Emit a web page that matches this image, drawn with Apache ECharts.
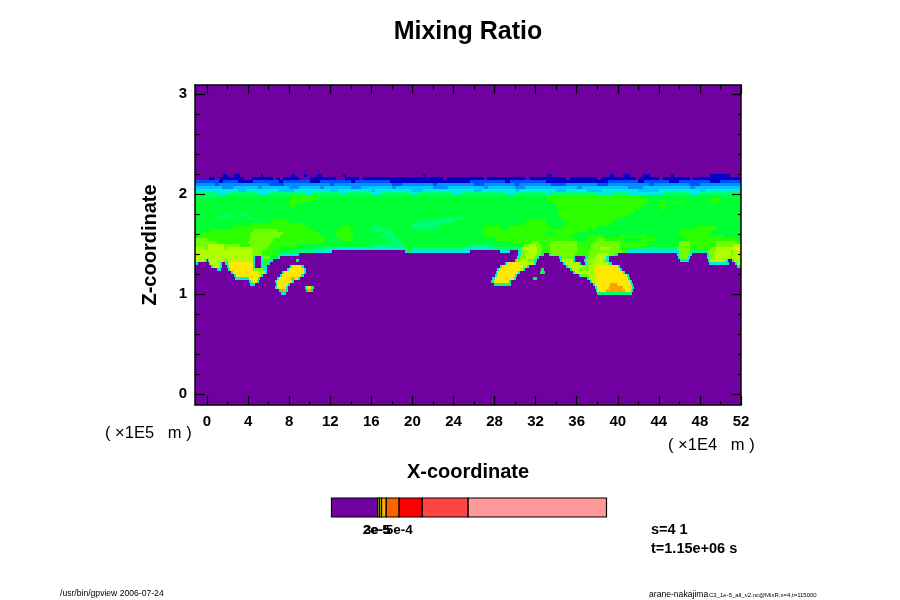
<!DOCTYPE html>
<html><head><meta charset="utf-8"><style>html,body{margin:0;padding:0;background:#fff}#c{width:900px;height:600px}</style>
<script src="https://cdn.jsdelivr.net/npm/echarts@6/dist/echarts.min.js"></script></head><body><div id="c"></div>
<script>
const levelColors=['#7000a0','#0000c8','#0050ff','#0090ff','#00c8ff','#00ecdc','#00ff70','#00ff33','#2cff00','#70ff00','#b0ff00','#ffe800','#ffa000'];
const xRange=[-1.17,52], zRange=[-0.107,3.088];
const xMajor=[0,4,8,12,16,20,24,28,32,36,40,44,48,52];
const xMinor=[2,6,10,14,18,22,26,30,34,38,42,46,50];
const zMajor=[0,1,2,3];
const zMinor=[0.2,0.4,0.6,0.8,1.2,1.4,1.6,1.8,2.2,2.4,2.6,2.8,3.0];
const rowTop=2.195, rowStep=0.03;
// each row: level, end x, level, end x ... from the top of the cloud deck downward
const fieldRows=[
[0,1.6,1,1.9,0,2.6,1,3.2,0,5.3,1,5.5,0,8.2,1,8.6,0,9.4,1,9.7,0,10.7,1,11.2,0,13.2,1,13.5,0,21,1,21.3,0,33.1,1,33.6,0,39.2,1,39.6,0,40.5,1,41.2,0,42.5,1,43.1,0,45.2,1,45.5,0,49,1,50.9,0,52],
[0,0.2,1,0.8,0,1.3,1,3.6,0,4.4,1,6.4,0,6.8,1,7.1,0,7.4,1,9,0,10,1,12.6,0,13.4,1,14.8,0,15.2,1,23,0,23.4,1,27,0,27.3,1,31,0,31.5,1,35,0,35.3,1,38,0,38.4,1,41.8,0,42.1,1,44,0,44.4,1,47,0,47.3,1,52],
[2,1.2,1,1.6,2,3,1,4.5,2,7,1,7.4,2,10,1,11,2,14,1,14.4,2,17.8,1,25.6,2,29,1,29.5,2,33,1,39,2,42,1,42.6,2,45,1,46,2,49,1,50,2,52],
[3,0.8,2,1.2,3,6,2,7.5,3,12,2,12.4,3,18,2,19,3,22,2,22.4,3,26,2,27,3,30,2,30.4,3,33.5,2,35,3,38,2,39,3,43,2,43.5,3,47,2,48,3,52],
[4,1.5,3,2.5,4,5,3,5.4,4,8,3,9,4,11,3,11.4,4,14,3,15,4,18,3,18.4,4,22,3,23.5,4,27,3,27.4,4,30,3,31,4,36,3,36.5,4,41,3,42.5,4,47,3,47.5,4,52],
[5,3,4,3.8,5,7,4,8.5,5,12,4,12.8,5,16,4,16.4,5,20,4,21,5,26,4,26.8,5,30,4,30.4,5,34,4,35,5,37,4,38.5,5,42,4,44,5,48,4,48.5,5,52],
[6,1,5,2,6,5,5,6,6,9.5,5,10.2,6,13,5,13.4,6,16,5,17,6,20,5,20.5,6,24,5,24.8,6,29,5,30,6,33,5,33.5,6,38,5,39.5,6,41,5,44.5,6,47,5,48,6,52],
[6,1,7,8.2,8,11,7,33,8,42.2,7,52],
[7,8,8,10.6,7,33.2,8,42.8,7,49.1,8,50,7,52],
[7,8.1,8,9.3,7,33.6,8,42.8,7,43.9,8,44.6,7,45.1,8,46.4,7,49,8,49.7,7,52],
[7,8,8,8.6,7,34,8,42.6,7,44,8,44.6,7,52],
[7,34.2,8,42.2,7,44,8,44.5,7,52],
[7,34.1,8,41.6,7,52],
[7,1.5,6,2.2,7,3,6,3.6,7,34.3,8,41,7,52],
[7,1,6,1.5,7,2.3,6,2.8,7,4,6,4.5,7,22.5,6,25,7,34.5,8,40,7,52],
[7,4.8,6,5,7,6.2,8,8,7,20.5,6,24,7,31,8,33,7,35,8,39.5,7,52],
[7,4.2,8,9.4,7,20,6,23,7,30.8,8,33,7,35,8,39.2,7,52],
[7,2.6,8,9.8,7,13,8,14,7,16,6,17,7,20,6,22.5,7,27,8,28.6,7,29.4,8,33.5,7,34.5,8,38,7,47.5,8,49.6,7,52],
[7,0.3,8,4.5,9,6.8,8,10.4,7,12.8,8,13.9,7,16.2,6,17.8,7,26.9,8,37,7,46.2,8,49.3,7,52],
[7,-0.5,8,4.3,9,7.4,8,11,7,12.6,8,14.2,7,17.2,6,18.2,7,26.9,8,33,7,33.8,8,36,7,45.9,8,49,7,52],
[7,-0.9,8,4.2,9,7.1,8,11.2,7,12.6,8,14.3,7,16.8,6,18.2,7,27,8,35.3,7,37.1,8,38.6,7,40.2,8,42.8,7,46.4,8,50.2,7,52],
[9,0,8,4.2,9,6.5,8,11.6,7,13,8,14,7,17.6,6,18.8,7,28,8,35.8,7,37.1,8,38,9,38.7,8,40.6,7,42.4,8,43.6,7,46.4,8,51.6,7,52],
[9,1,8,4,9,6.2,8,11.3,7,18.2,6,19.2,7,29.5,8,31.6,9,32.3,8,33.4,9,36,8,37.6,9,40.2,8,42.8,7,46,9,47,8,49.6,9,51.6,8,52],
[9,0.1,10,1.7,9,3.2,8,4.2,9,6,8,8.8,7,16,6,19.2,7,25.6,6,27.9,7,30.8,9,31.4,10,32,9,32.5,8,33.4,9,36,8,37.4,9,40.2,8,42.8,7,46,9,47,8,49.6,9,51.2,10,52],
[10,-0.4,9,0.1,10,1.7,9,2,10,4.4,9,5.8,8,7.1,7,9.7,6,12.1,5,19.1,6,19.5,7,20,6,25,5,27.9,6,30.4,9,30.8,10,32.1,9,32.6,8,33.4,9,36,8,37.4,9,38.3,10,39.2,9,40.2,8,40.9,6,45.8,9,47,8,49,9,49.6,10,51.2,11,52],
[10,4.5,9,5.4,8,6.4,7,8.5,6,10.5,5,12.2,0,19.3,5,19.5,7,20,5,25.6,0,28.5,5,29.5,0,30.3,5,30.6,9,31,10,32.1,9,32.5,8,33.4,9,36,8,37.2,9,40.4,8,40.9,5,45.6,5,46,9,47,6,48.8,9,49.6,10,51,9,51.3,10,52],
[10,4.5,9,5.4,8,7,5,9,0,30.3,5,30.6,9,31,10,32,9,32.5,5,32.8,0,33.3,5,33.5,9,35.8,8,37.2,9,38,10,39,9,39.7,5,40,0,45.8,5,46,9,47,5,47.2,0,48.7,5,48.9,9,49.3,10,51,9,51.2,10,52],
[10,4.5,5,4.7,0,5.3,5,5.5,9,6.1,7,6.9,5,7.1,0,30.2,5,30.5,9,31,10,31.8,9,32.1,5,32.3,0,34.3,5,34.6,9,35.6,5,35.8,0,36.8,5,37.1,9,37.8,10,38.9,5,39.1,0,45.9,5,46.1,9,46.8,5,47,0,48.7,5,48.9,9,49.3,10,50.8,9,51.1,10,52],
[10,-0.2,5,0,0,0.1,5,0.2,10,1.7,9,2,10,4.5,5,4.7,0,5.3,5,5.5,8,6.1,5,6.4,0,8.7,6,9,0,30,5,30.1,9,30.6,10,31.3,9,31.8,5,32.1,0,34.4,5,34.6,10,35.6,5,35.8,0,36.7,5,36.9,9,37.2,10,38.6,9,38.9,5,39.1,0,46.1,5,46.9,0,48.8,5,49,10,50.5,5,50.7,0,51.1,5,51.3,10,52],
[5,-0.9,0,0.2,5,0.3,10,1.3,5,1.5,0,1.8,5,2,10,2.2,11,4.5,5,4.7,0,5.3,5,5.5,8,5.8,5,6.1,0,29,5,29.2,11,30.5,10,31.8,5,32,0,34.7,5,34.9,10,36.2,5,36.4,0,36.8,5,37,9,37.6,10,39,9,39.2,5,39.4,0,48.9,5,50.8,0,51.4,5,51.6,10,52],
[0,0.4,5,0.6,10,1.3,5,1.5,0,1.9,5,2.1,11,4.5,5,4.7,0,5.3,5,5.8,0,8.1,5,8.3,11,9.2,5,9.4,0,28.5,5,28.7,11,30.8,10,31.2,5,31.4,0,35,5,35.2,10,36.6,9,37.2,10,38,11,40,5,40.2,0,51.6,5,52],
[0,1,5,1.4,0,2,5,2.2,11,4.5,9,5.5,5,5.8,0,7.8,5,8,11,9.4,5,9.6,0,28.2,5,28.4,11,30.5,10,30.8,5,31,0,32.5,7,32.8,0,35.3,5,35.5,10,36.2,9,37.2,10,37.9,11,40.2,5,40.4,0,52],
[0,2.3,5,2.5,11,5,10,5.6,5,5.8,0,7.3,5,7.5,11,9.4,5,9.6,0,28.1,5,28.3,11,30.3,5,30.5,0,32.4,7,32.9,0,35.6,5,35.8,10,37.9,11,40.5,5,40.7,0,52],
[0,2.6,5,2.8,11,5.1,10,5.3,5,5.5,0,7.1,5,7.3,11,9.2,5,9.4,0,28,5,28.2,11,30,5,30.2,0,36.2,5,36.4,9,37.2,10,37.9,11,40.9,5,41.1,0,52],
[0,2.7,5,4.1,11,5,5,5.2,0,6.8,5,7,11,8.2,12,8.6,11,8.9,5,9.1,0,27.8,5,28,11,29.9,5,30.1,0,31.7,7,32.1,0,37,5,37.2,10,38,11,41,5,41.2,0,52],
[0,4.1,5,4.3,10,4.5,11,4.9,5,5.1,0,6.6,5,6.8,11,8.3,5,8.5,0,27.7,5,27.9,11,29.4,5,29.6,0,37.3,5,37.5,10,37.9,11,41.2,5,41.4,0,52],
[0,4.2,5,4.7,0,6.7,5,6.8,11,7.9,5,8.1,0,27.9,6,29.6,0,37.6,5,37.8,11,39.2,12,39.9,11,41.3,5,41.5,0,52],
[0,6.6,5,6.8,11,7.7,5,7.9,0,9.5,6,9.7,11,10.1,6,10.4,0,37.8,5,38,11,39.1,12,40.5,11,41.4,5,41.6,0,52],
[0,7,5,7.2,12,7.7,5,7.9,0,9.6,6,9.8,12,10.1,6,10.3,0,37.9,5,38,11,38.9,12,40.7,11,41.3,5,41.5,0,52],
[0,7.2,5,7.7,0,38,6,41.4,0,52]
];
const barColors=['#7000a0','#b0ff00','#ffe800','#ffb000','#ff6000','#ff0000','#ff4444','#ff9999'];
const barEdges=[0,16.85,17.5,18.2,19.9,24.6,33,49.7,100];
const barLabels=[[16.3,'2e-5'],[16.6,'3e-5'],[24.6,'5e-4']];
const xScale='×1E4   m', zScale='×1E5   m';

const cells=[[xRange[0],xRange[1],zRange[1],zRange[0],0]];
fieldRows.forEach((r,i)=>{
  let x0=xRange[0];
  const top=rowTop-rowStep*i;
  for(let k=0;k<r.length;k+=2){
    cells.push([x0,r[k+1],top,top-rowStep,r[k]]);
    x0=r[k+1];
  }
});
const barCells=barColors.map((c,i)=>[barEdges[i],barEdges[i+1],i]);

const noSplit={show:false};
const black={color:'#000',width:1.5};
function xAxis(pos,values,len,first,extra){
  return Object.assign({type:'value',gridIndex:0,position:pos,min:xRange[0],max:xRange[1],z:10,
    splitLine:noSplit,axisLine:{show:first,onZero:false,lineStyle:black},
    axisTick:{show:true,inside:true,length:len,customValues:values,lineStyle:{color:'#000',width:1.2}},
    axisLabel:{show:false}},extra||{});
}
function yAxis(pos,values,len,first,extra){
  return Object.assign({type:'value',gridIndex:0,position:pos,min:zRange[0],max:zRange[1],z:10,
    splitLine:noSplit,axisLine:{show:first,onZero:false,lineStyle:black},
    axisTick:{show:true,inside:true,length:len,customValues:values,lineStyle:{color:'#000',width:1.2}},
    axisLabel:{show:false}},extra||{});
}
const tickFont={show:true,color:'#000',fontFamily:'Liberation Sans',fontWeight:'bold',fontSize:15};
const nameFont={color:'#000',fontFamily:'Liberation Sans',fontWeight:'bold',fontSize:20};
const thin={fill:'#000',font:'16.5px "Liberation Sans"'};

const chart=echarts.init(document.getElementById('c'),null,{renderer:'canvas'});
chart.setOption({
  animation:false,backgroundColor:'#fff',
  title:{text:'Mixing Ratio',left:463,top:15,textAlign:'center',textStyle:{fontFamily:'Liberation Sans',fontWeight:'bold',fontSize:25,color:'#000'}},
  grid:[{left:195,top:85,width:546,height:320},{left:331.5,top:498,width:275,height:19}],
  xAxis:[
    xAxis('bottom',xMajor,9,true,{name:'X-coordinate',nameLocation:'middle',nameGap:57,nameTextStyle:nameFont,
      axisLabel:Object.assign({customValues:xMajor,margin:9},tickFont)}),
    xAxis('bottom',xMinor,4,false),
    xAxis('top',xMajor,9,true),
    xAxis('top',xMinor,5,false),
    {type:'value',gridIndex:1,min:0,max:100,position:'bottom',splitLine:noSplit,
      axisLine:{show:false},axisTick:{show:false},axisLabel:{show:false}}
  ],
  yAxis:[
    yAxis('left',zMajor,10,true,{name:'Z-coordinate',nameLocation:'middle',nameGap:35,nameRotate:90,nameTextStyle:nameFont,
      axisLabel:Object.assign({customValues:zMajor,margin:8},tickFont)}),
    yAxis('left',zMinor,5,false),
    yAxis('right',zMajor,9,true),
    yAxis('right',zMinor,3,false),
    {type:'value',gridIndex:1,min:0,max:1,splitLine:noSplit,axisLine:{show:false},axisTick:{show:false},axisLabel:{show:false}}
  ],
  series:[
    {type:'custom',xAxisIndex:0,yAxisIndex:0,silent:true,clip:true,z:1,data:cells,
      encode:{x:[0,1],y:[2,3]},
      renderItem:(p,api)=>{
        const a=api.coord([api.value(0),api.value(2)]),b=api.coord([api.value(1),api.value(3)]);
        const x=Math.round(a[0]),y=Math.round(a[1]);
        return {type:'rect',shape:{x:x,y:y,width:Math.round(b[0])-x,height:Math.round(b[1])-y},
          style:{fill:levelColors[api.value(4)]}};
      }},
    {type:'custom',xAxisIndex:4,yAxisIndex:4,silent:true,z:2,data:barCells,
      encode:{x:[0,1]},
      renderItem:(p,api)=>{
        const a=api.coord([api.value(0),1]),b=api.coord([api.value(1),0]);
        return {type:'rect',shape:{x:a[0],y:a[1],width:b[0]-a[0],height:b[1]-a[1]},
          style:{fill:barColors[api.value(2)],stroke:'#000',lineWidth:1.2}};
      }},
    {type:'custom',xAxisIndex:4,yAxisIndex:4,silent:true,z:3,data:barLabels.map(b=>[b[0]]),
      encode:{x:0},
      renderItem:(p,api)=>{
        const a=api.coord([api.value(0),0]);
        return {type:'text',style:{x:a[0],y:a[1]+13,text:barLabels[p.dataIndex][1],fill:'#000',
          font:'bold 13.5px "Liberation Sans"',align:'center',verticalAlign:'middle'}};
      }}
  ],
  graphic:[
    {type:'text',left:105,top:425,style:Object.assign({text:'( '+zScale+' )'},thin)},
    {type:'text',left:668,top:437,style:Object.assign({text:'( '+xScale+' )'},thin)},
    {type:'text',left:651,top:522,style:{text:'s=4 1',fill:'#000',font:'bold 14.5px "Liberation Sans"'}},
    {type:'text',left:651,top:541,style:{text:'t=1.15e+06 s',fill:'#000',font:'bold 14.5px "Liberation Sans"'}},
    {type:'text',left:60,top:589,style:{text:'/usr/bin/gpview 2006-07-24',fill:'#000',font:'8.6px "Liberation Sans"'}},
    {type:'text',left:649,top:590,style:{text:'arane-nakajima',fill:'#000',font:'8.6px "Liberation Sans"'}},
    {type:'text',left:709,top:592,style:{text:'C3_1e-5_all_v2.nc@MixR,x=4,t=115000',fill:'#000',font:'6px "Liberation Sans"'}}
  ]
});
</script></body></html>
